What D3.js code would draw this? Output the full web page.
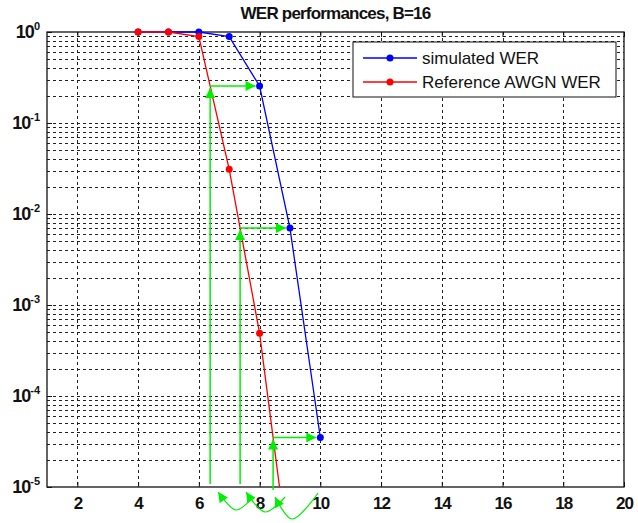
<!DOCTYPE html>
<html>
<head>
<meta charset="utf-8">
<script src="https://cdn.jsdelivr.net/npm/d3@7"></script>
<style>
  body { margin: 0; background: #fff; }
  text { font-family: "Liberation Sans", Arial, sans-serif; }
</style>
</head>
<body>
<div id="canvas"></div>
<script>
"use strict";

/* ===============================
   Data */
let simEbno = [4, 5, 6, 7, 8, 9, 10];
let simWER = [1, 1, 1, 0.89, 0.255, 0.0070, 3.5e-5];
let refEbno = [4, 5, 6, 7, 8, 9];
let refWER = [1, 1, 0.89, 0.031, 4.9e-4, 1.3e-6];
let xTicks = [2, 4, 6, 8, 10, 12, 14, 16, 18, 20];
let yExponents = [0, -1, -2, -3, -4, -5];
let legendLabels = ["simulated WER", "Reference AWGN WER"];
let gainPoints = [8, 9, 10];   // simulated points that get a green gain arrow

/* ===============================
   Configuration */
let svgWidth = 638;
let svgHeight = 523;
let plotLeft = 47;
let plotRight = 624;
let plotTop = 32;
let plotBottom = 487;
let green = "#00f000";

let svg = d3.select("#canvas")
  .append("svg")
  .attr("width", svgWidth)
  .attr("height", svgHeight);

let xScale = d3.scaleLinear()
  .domain([1, 20])
  .range([plotLeft, plotRight]);

let yScale = d3.scaleLog()
  .domain([1e-5, 1])
  .range([plotBottom, plotTop]);

/* arrow head marker */
let defs = svg.append("defs");
defs.append("marker")
  .attr("id", "arrow")
  .attr("viewBox", "0 0 10 10")
  .attr("refX", 10)
  .attr("refY", 5)
  .attr("markerWidth", 11)
  .attr("markerHeight", 10)
  .attr("markerUnits", "userSpaceOnUse")
  .attr("orient", "auto")
  .append("path")
  .attr("d", "M0,0 L10,5 L0,10 z")
  .attr("fill", green);

defs.append("clipPath")
  .attr("id", "plotClip")
  .append("rect")
  .attr("x", plotLeft)
  .attr("y", plotTop - 5)
  .attr("width", plotRight - plotLeft)
  .attr("height", plotBottom - plotTop + 5);

/* ===============================
   Grid (dashed, minor log lines too) */
let gridValues = [];
for (let k = -5; k <= -1; k = k + 1) {
  for (let m = 1; m <= 9; m = m + 1) {
    let v = m * Math.pow(10, k);
    if (v > 1e-5) gridValues.push(v);
  }
}

svg.append("g")
  .attr("shape-rendering", "crispEdges")
  .selectAll("line")
  .data(gridValues)
  .join("line")
  .attr("x1", plotLeft)
  .attr("x2", plotRight)
  .attr("y1", function (d) { return Math.round(yScale(d)) + 0.5; })
  .attr("y2", function (d) { return Math.round(yScale(d)) + 0.5; })
  .attr("stroke", "#222")
  .attr("stroke-width", 1)
  .attr("stroke-dasharray", "3,3");

svg.append("g")
  .attr("shape-rendering", "crispEdges")
  .selectAll("line")
  .data(xTicks.filter(function (d) { return d < 20; }))
  .join("line")
  .attr("x1", function (d) { return Math.round(xScale(d)) + 0.5; })
  .attr("x2", function (d) { return Math.round(xScale(d)) + 0.5; })
  .attr("y1", plotTop)
  .attr("y2", plotBottom)
  .attr("stroke", "#222")
  .attr("stroke-width", 1)
  .attr("stroke-dasharray", "3,3");

/* ===============================
   Axes */
let xAxis = svg.append("g")
  .attr("transform", "translate(0," + plotBottom + ")")
  .call(d3.axisBottom(xScale).tickValues(xTicks).tickSizeInner(-5).tickSizeOuter(0).tickPadding(10));
xAxis.select(".domain").remove();
xAxis.selectAll("text")
  .attr("font-family", "Liberation Sans, Arial, sans-serif")
  .attr("font-size", 17)
  .attr("font-weight", "bold")
  .attr("letter-spacing", -1)
  .attr("fill", "#111");
xAxis.selectAll("line").attr("stroke", "#111");

let xAxisTop = svg.append("g")
  .attr("transform", "translate(0," + plotTop + ")")
  .call(d3.axisTop(xScale).tickValues(xTicks).tickSizeInner(-5).tickSizeOuter(0).tickFormat(""));
xAxisTop.select(".domain").remove();
xAxisTop.selectAll("line").attr("stroke", "#111");

let yTickValues = yExponents.map(function (e) { return Math.pow(10, e); });
let yAxis = svg.append("g")
  .attr("transform", "translate(" + plotLeft + ",0)")
  .call(d3.axisLeft(yScale).tickValues(yTickValues).tickSizeInner(-5).tickSizeOuter(0).tickFormat(""));
yAxis.select(".domain").remove();
yAxis.selectAll("line").attr("stroke", "#111");

/* y labels as 10 with superscript exponent */
let yLabels = svg.append("g")
  .selectAll("text")
  .data(yExponents)
  .join("text")
  .attr("x", plotLeft - 7)
  .attr("y", function (d) { return yScale(Math.pow(10, d)) + 6; })
  .attr("text-anchor", "end")
  .attr("font-weight", "bold")
  .attr("fill", "#111");
yLabels.append("tspan")
  .attr("font-size", 18)
  .attr("letter-spacing", -1)
  .text("10");
yLabels.append("tspan")
  .attr("font-size", 11)
  .attr("dy", -8)
  .text(function (d) { return String(d); });

/* frame */
svg.append("rect")
  .attr("x", plotLeft)
  .attr("y", plotTop)
  .attr("width", plotRight - plotLeft)
  .attr("height", plotBottom - plotTop)
  .attr("fill", "none")
  .attr("stroke", "#111")
  .attr("stroke-width", 1.3);

/* ===============================
   Series */
let lineGen = d3.line()
  .x(function (d) { return xScale(d[0]); })
  .y(function (d) { return yScale(d[1]); });

let series = [
  { name: legendLabels[0], color: "#0000ff", pts: d3.zip(simEbno, simWER) },
  { name: legendLabels[1], color: "#ff0000", pts: d3.zip(refEbno, refWER) }
];

let plotG = svg.append("g").attr("clip-path", "url(#plotClip)");
series.forEach(function (s) {
  plotG.append("path")
    .datum(s.pts)
    .attr("d", lineGen)
    .attr("fill", "none")
    .attr("stroke", s.color)
    .attr("stroke-width", 1.3);
  plotG.selectAll("circle.c" + s.color.slice(1))
    .data(s.pts.filter(function (d) { return d[1] >= 1e-5; }))
    .join("circle")
    .attr("class", "c" + s.color.slice(1))
    .attr("cx", function (d) { return xScale(d[0]); })
    .attr("cy", function (d) { return yScale(d[1]); })
    .attr("r", 3.5)
    .attr("fill", s.color);
});

/* ===============================
   Green gain arrows: reference Eb/N0 at the simulated WER */
function refEbnoAt(wer) {
  let lw = Math.log10(wer);
  for (let i = 0; i < refEbno.length - 1; i = i + 1) {
    let a = Math.log10(refWER[i]);
    let b = Math.log10(refWER[i + 1]);
    if (a !== b && lw <= a && lw >= b) {
      return refEbno[i] + (a - lw) / (a - b) * (refEbno[i + 1] - refEbno[i]);
    }
  }
  return refEbno[refEbno.length - 1];
}

let gains = gainPoints.map(function (x) {
  let i = simEbno.indexOf(x);
  return { xs: x, wer: simWER[i], xr: refEbnoAt(simWER[i]) };
});

let annG = svg.append("g");
gains.forEach(function (g, i) {
  let xv = xScale(g.xr);
  let yw = yScale(g.wer);
  let yStart = plotBottom - 3 + (i === 2 ? 6 : 0);

  annG.append("line")
    .attr("x1", xv).attr("x2", xv)
    .attr("y1", yStart).attr("y2", yw + 2)
    .attr("stroke", green).attr("stroke-width", 1.5)
    .attr("marker-end", "url(#arrow)");

  annG.append("line")
    .attr("x1", xv).attr("x2", xScale(g.xs) - 4)
    .attr("y1", yw).attr("y2", yw)
    .attr("stroke", green).attr("stroke-width", 1.5)
    .attr("marker-end", "url(#arrow)");

  /* curved arrow under the axis pointing at the foot of the vertical arrow */
  let curves = [
    [[43, 10], [26, 23], [8, 5]],
    [[45, 10], [25, 25], [6, 5]],
    [[45, 6], [19, 32], [2, 10]]
  ];
  let pts = curves[i].map(function (p) { return [xv + p[0], plotBottom + p[1]]; });
  annG.append("path")
    .attr("d", d3.line().curve(d3.curveCatmullRom)(pts))
    .attr("fill", "none")
    .attr("stroke", green)
    .attr("stroke-width", 1.2)
    .attr("marker-end", "url(#arrow)");
});

/* ===============================
   Legend */
let legendX = 353;
let legendY = 42;
svg.append("rect")
  .attr("x", legendX)
  .attr("y", legendY)
  .attr("width", 263)
  .attr("height", 55)
  .attr("fill", "#fff")
  .attr("stroke", "#111")
  .attr("stroke-width", 1);

series.forEach(function (s, i) {
  let cy = legendY + 16 + i * 24;
  svg.append("line")
    .attr("x1", legendX + 10).attr("x2", legendX + 64)
    .attr("y1", cy).attr("y2", cy)
    .attr("stroke", s.color).attr("stroke-width", 1.3);
  svg.append("circle")
    .attr("cx", legendX + 37).attr("cy", cy)
    .attr("r", 3.5).attr("fill", s.color);
  svg.append("text")
    .attr("x", legendX + 69)
    .attr("y", cy + 6)
    .attr("font-size", 17)
    .attr("fill", "#111")
    .text(s.name);
});

/* ===============================
   Title */
svg.append("text")
  .attr("x", (plotLeft + plotRight) / 2)
  .attr("y", 19)
  .attr("text-anchor", "middle")
  .attr("font-size", 17)
  .attr("font-weight", "bold")
  .attr("letter-spacing", -0.8)
  .attr("fill", "#111")
  .text("WER performances, B=16");
</script>
</body>
</html>
